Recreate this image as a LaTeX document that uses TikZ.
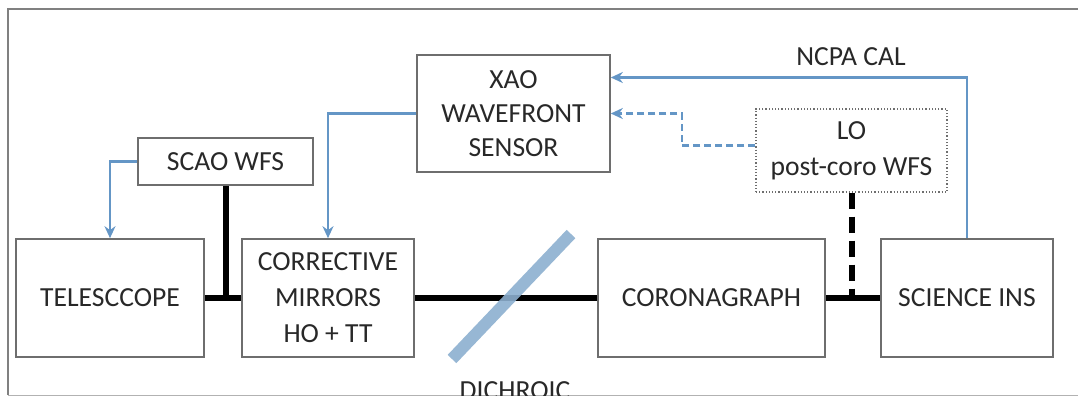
\documentclass[tikz,border=0pt]{standalone}
\usepackage{fontspec}
\setmainfont{Carlito}
\usetikzlibrary{calc,arrows.meta}
\definecolor{txt}{RGB}{40,40,40}
\definecolor{bord}{RGB}{110,110,110}
\definecolor{ablue}{RGB}{100,150,198}
\definecolor{dblue}{RGB}{140,175,207}
\begin{document}
\begin{tikzpicture}[x=0.5pt,y=-0.5pt,
  every node/.style={font=\fontsize{13.8}{17}\selectfont, text=txt},
  box/.style={draw=bord, line width=0.8pt, fill=white, inner sep=0pt, align=center},
  dbox/.style={draw=bord, line width=0.6pt, densely dotted, fill=white, inner sep=0pt, align=center},
  beam/.style={line width=3pt, black},
  dbeam/.style={line width=3pt, black, dash pattern=on 8pt off 4pt},
  ctrl/.style={draw=ablue, line width=1.4pt, -{Stealth[length=6pt,width=5.5pt]}},
  dctrl/.style={ctrl, dash pattern=on 3.5pt off 2pt}]
\useasboundingbox (0,0) rectangle (1078,396);
\draw[gray, line width=0.6pt] (8,395) -- (8,9) -- (1082,9);
\draw[gray!60, line width=0.5pt] (8,395) -- (1082,395);
% boxes
\node[box, minimum width=94pt, minimum height=59pt] (tel) at (110,298) {TELESCCOPE};
\node[box, minimum width=86pt, minimum height=59pt] (cor) at (328,298) {CORRECTIVE\\[1pt]MIRRORS\\[1pt]HO + TT};
\node[box, minimum width=113.5pt, minimum height=59pt] (coro) at (711.5,298) {CORONAGRAPH};
\node[box, minimum width=86pt, minimum height=59pt] (sci) at (967,298) {SCIENCE INS};
\node[box, minimum width=87.5pt, minimum height=23.5pt] (scao) at (225.5,161.5) {SCAO WFS};
\node[box, minimum width=96.5pt, minimum height=58.5pt] (xao) at (513.5,113.5) {XAO\\WAVEFRONT\\SENSOR};
\node[dbox, minimum width=95.5pt, minimum height=41.5pt] (lo) at (851.5,150.5) {LO\\[1pt]post-coro WFS};
% beams
\draw[beam] (tel.east) -- (cor.west);
\draw[beam] (scao.south) -- (scao.south |- tel.east);
\draw[beam] (cor.east) -- (coro.west);
\draw[beam] ($(xao.south)+(-8,0)$) -- ($(xao.south)+(-8,0)$ |- cor.east);
\draw[beam] (coro.east) -- (sci.west);
\draw[dbeam] (lo.south) -- (lo.south |- sci.west);
% dichroic
\node (dich) at (515,391) {DICHROIC};
\draw[dblue, line width=6pt, opacity=0.9] (452,359) -- (571,234);
% control paths
\draw[ctrl] (scao.west) -| (tel.north);
\draw[ctrl] (xao.west) -| (cor.north);
\coordinate (ncpa) at ($(xao.east)+(0,-36)$);
\draw[ctrl] (sci.north) |- (ncpa);
\node (ncpalbl) at (851,57) {NCPA CAL};
\coordinate (lobend) at (682,145.5);
\draw[dctrl] ($(lo.west)+(0,-5)$) -- (lobend) |- (xao.east);
\end{tikzpicture}
\end{document}
